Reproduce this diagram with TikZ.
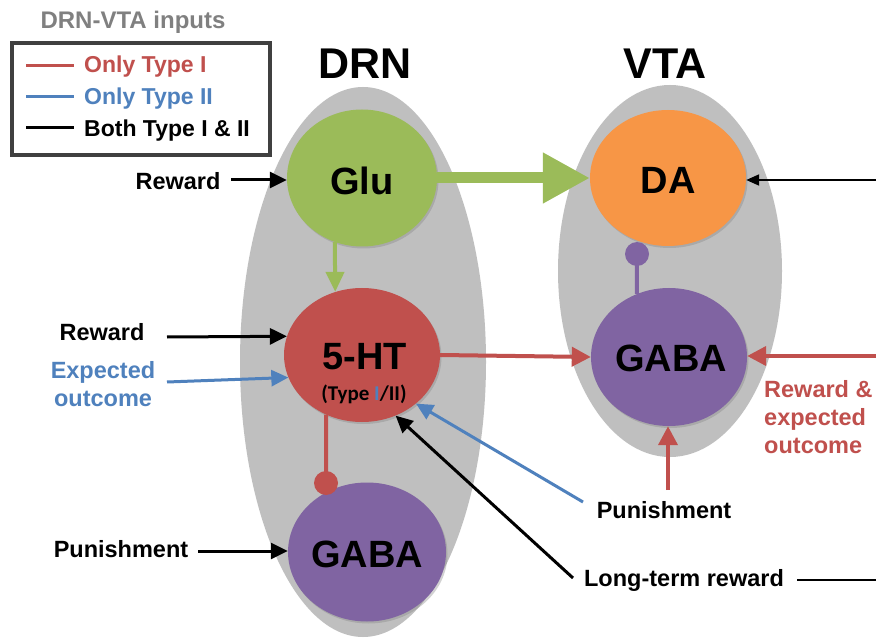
\documentclass[tikz,border=0pt]{standalone}
\usepackage{fontspec}
\setmainfont{Liberation Sans}
\newfontfamily\calib{Carlito}
\usetikzlibrary{shapes.geometric,arrows.meta,shadows}
\definecolor{bgray}{HTML}{BFBFBF}
\definecolor{cgreen}{HTML}{9BBB59}
\definecolor{corange}{HTML}{F79646}
\definecolor{cred}{HTML}{C0504D}
\definecolor{cpurple}{HTML}{8064A2}
\definecolor{cblue}{HTML}{4F81BD}
\definecolor{tgray}{HTML}{808080}
\definecolor{lgray}{HTML}{404040}
\tikzset{
  cell/.style={ellipse, inner sep=0pt, minimum width=156pt, minimum height=136pt,
    drop shadow={shadow xshift=1.5pt, shadow yshift=-2pt, opacity=0.35}},
  celltext/.style={font=\fontsize{38}{42}\selectfont\bfseries},
  lab/.style={font=\fontsize{23.5}{28}\selectfont\bfseries, inner sep=0pt},
  leg/.style={font=\fontsize{23}{27}\selectfont\bfseries, inner sep=0pt},
  blkarr/.style={line width=3pt, -{Triangle[length=17pt,width=16pt]}},
  thinarr/.style={line width=2pt, -{Triangle[length=13pt,width=11pt]}},
  bluearr/.style={cblue, line width=3pt, -{Triangle[length=17pt,width=16pt]}},
  redarr/.style={cred, line width=4pt, -{Triangle[length=19pt,width=19pt]}},
  inhdot/.style={circle, inner sep=0pt, minimum size=24pt},
}
\begin{document}
\begin{tikzpicture}[x=1pt,y=-1pt]
\useasboundingbox (0,0) rectangle (876,639);
\fill[white] (0,0) rectangle (876,639);
\begin{scope}
\clip (0,0) rectangle (876,639);
\fill[bgray] (363,362) ellipse [x radius=123, y radius=275];
\fill[bgray] (670,271) ellipse [x radius=112, y radius=186];
\end{scope}

% titles
\node[font=\fontsize{43}{48}\selectfont\bfseries] (tdrn) at (365,64) {DRN};
\node[font=\fontsize{43}{48}\selectfont\bfseries] (tvta) at (665,64) {VTA};

% legend
\node[font=\fontsize{24}{28}\selectfont\bfseries, text=tgray] (ltitle) at (133,22) {DRN-VTA inputs};
\draw[lgray, line width=4pt] (12,43) rectangle (270,155);
\coordinate (l1a) at (26,66); \coordinate (l1b) at (74,66);
\coordinate (l2a) at (26,97); \coordinate (l2b) at (74,97);
\coordinate (l3a) at (26,128); \coordinate (l3b) at (74,128);
\draw[cred, line width=3pt] (l1a) -- (l1b);
\draw[cblue, line width=3pt] (l2a) -- (l2b);
\draw[black, line width=3pt] (l3a) -- (l3b);
\node[leg, anchor=west, text=cred] (lt1) at (84,67) {Only Type I};
\node[leg, anchor=west, text=cblue] (lt2) at (84,99) {Only Type II};
\node[leg, anchor=west] (lt3) at (84,131) {Both Type I \& II};

% cells
\node[cell, fill=cgreen, minimum width=150pt, minimum height=137pt] (glu) at (362,178) {};
\node[celltext] (glut) at (362,181) {Glu};
\node[cell, fill=corange] (da) at (668,178) {};
\node[celltext] (dat) at (668,180) {DA};
\node[cell, fill=cred, minimum height=134pt] (5ht) at (362,355) {};
\node[celltext] (5htt) at (365,357) {5-HT};
\node[font=\calib\fontsize{21}{24}\selectfont\bfseries] (5htsub) at (364,394) {(Type \textcolor{cblue}{I}/II)};
\node[cell, fill=cpurple, minimum height=138pt] (gabav) at (669,357) {};
\node[celltext] (gabavt) at (671,358) {GABA};
\node[cell, fill=cpurple, minimum width=158pt, minimum height=139pt] (gabad) at (367,552) {};
\node[celltext] (gabadt) at (367,554) {GABA};

% inhibitory dots
\node[inhdot, fill=cred] (inh1) at (326,483) {};
\node[inhdot, fill=cpurple] (inh2) at (637,254) {};
\draw[cred, line width=4pt] (5ht.-121) -- (inh1.center);
\draw[cpurple, line width=4pt] (gabav.117) -- (inh2.center);

% internal connections
\draw[cgreen, line width=11pt, -{Triangle[length=47pt,width=48pt]}] (glu.east) -- (da.west);
\draw[cgreen, line width=4pt, -{Triangle[length=20pt,width=18pt]}] (glu.-113) -- (5ht.113);
\draw[redarr] (5ht.east) -- (gabav.west);

% left inputs
\node[lab] (rw1) at (178,181) {Reward};
\coordinate (rw1s) at (231,180);
\draw[blkarr] (rw1s) -- (glu.west |- rw1s);

\node[lab] (rw2) at (102,332) {Reward};
\coordinate (rw2s) at (167,337);
\draw[blkarr] (rw2s) -- (5ht.166);

\node[lab, text=cblue, align=center] (exp) at (103,384) {Expected\\outcome};
\coordinate (exps) at (167,382);
\draw[bluearr] (exps) -- (5ht.197);

\node[lab] (pun1) at (121,549) {Punishment};
\coordinate (pun1s) at (198,551);
\draw[blkarr] (pun1s) -- (gabad.west |- pun1s);

% right inputs
\coordinate (das) at (876,180);
\draw[thinarr] (das) -- (da.east |- das);

\coordinate (gvs) at (876,356);
\draw[redarr] (gvs) -- (gabav.east |- gvs);
\node[lab, text=cred, align=left, anchor=west, font=\fontsize{23.5}{28}\selectfont\bfseries] (rwexp) at (764,417) {Reward \&\\expected\\outcome};

\node[lab] (pun2) at (664,510) {Punishment};
\coordinate (pun2r) at (668,490);
\draw[redarr] (pun2r) -- (gabav.south -| pun2r);
\coordinate (pun2b) at (583,502);
\draw[bluearr] (pun2b) -- (5ht.-42);

\node[lab] (ltr) at (684,580) {Long-term reward};
\coordinate (ltrs) at (573,578);
\draw[blkarr] (ltrs) -- (5ht.-61);
\coordinate (ltra) at (797,580);
\coordinate (ltrb) at (876,580);
\draw[line width=2pt] (ltra) -- (ltrb);
\end{tikzpicture}
\end{document}
